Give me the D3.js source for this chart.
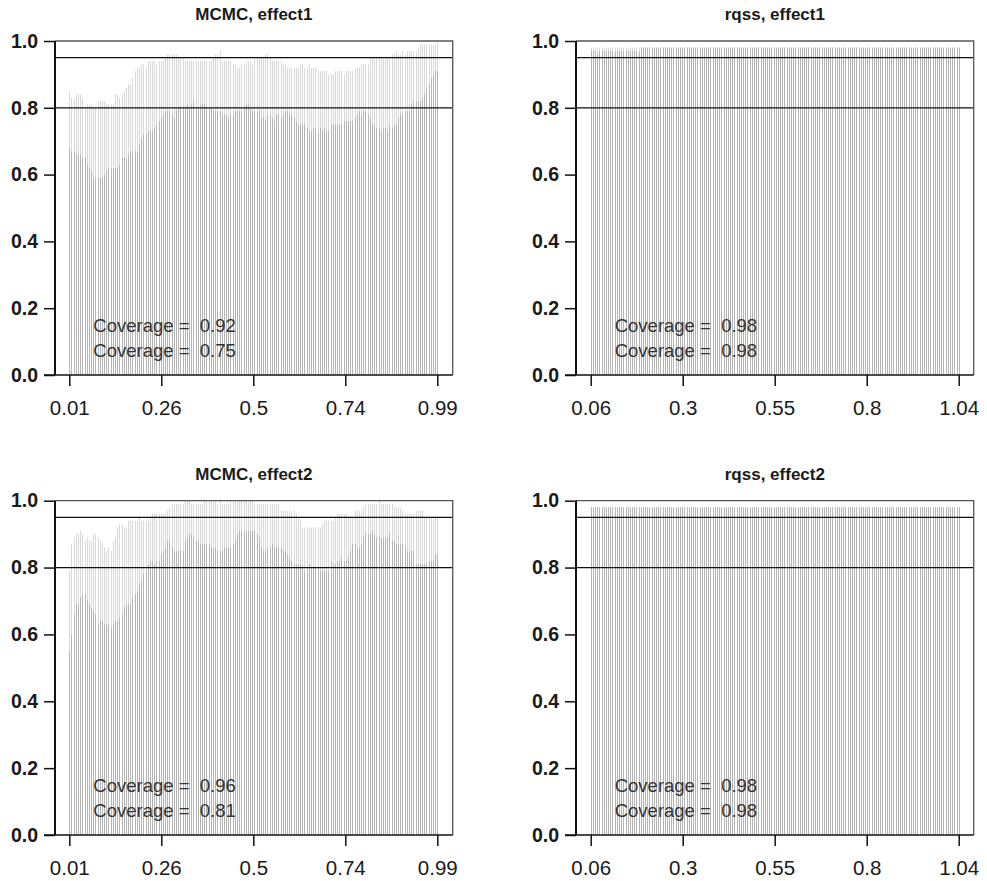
<!DOCTYPE html>
<html><head><meta charset="utf-8">
<script src="https://cdn.jsdelivr.net/npm/d3@7/dist/d3.min.js"></script>
<style>body{margin:0;background:#fff}svg{display:block}</style>
</head><body>
<svg id="chart" width="987" height="881"></svg>
<script>
const panelTitles = ["MCMC, effect1", "rqss, effect1", "MCMC, effect2", "rqss, effect2"];
const xTickLabelsMCMC = ["0.01", "0.26", "0.5", "0.74", "0.99"];
const xTickLabelsRqss = ["0.06", "0.3", "0.55", "0.8", "1.04"];
const yTickValues = [0, 0.2, 0.4, 0.6, 0.8, 1.0];
const yTickLabels = ["0.0", "0.2", "0.4", "0.6", "0.8", "1.0"];
const refLines = [0.95, 0.8];
const coverageUpper = ["0.92", "0.98", "0.96", "0.98"];
const coverageLower = ["0.75", "0.98", "0.81", "0.98"];

const mcmcEffect1Upper = [
0.85,0.83,0.83,0.84,0.84,0.84,0.83,0.80,0.81,0.81,
0.81,0.80,0.80,0.82,0.82,0.82,0.82,0.81,0.81,0.81,
0.81,0.84,0.84,0.83,0.84,0.85,0.86,0.87,0.87,0.89,
0.91,0.92,0.92,0.93,0.93,0.92,0.94,0.94,0.94,0.94,
0.93,0.94,0.94,0.94,0.95,0.96,0.96,0.96,0.96,0.96,
0.95,0.95,0.95,0.94,0.94,0.94,0.94,0.94,0.94,0.94,
0.94,0.94,0.94,0.94,0.94,0.94,0.95,0.96,0.96,0.97,
0.94,0.94,0.94,0.94,0.94,0.93,0.93,0.92,0.92,0.93,
0.93,0.94,0.94,0.94,0.93,0.95,0.95,0.95,0.95,0.95,
0.96,0.96,0.95,0.94,0.94,0.94,0.94,0.94,0.93,0.93,
0.92,0.92,0.92,0.92,0.92,0.92,0.93,0.93,0.92,0.92,
0.93,0.92,0.92,0.92,0.91,0.91,0.91,0.91,0.91,0.90,
0.90,0.90,0.91,0.91,0.91,0.91,0.90,0.91,0.91,0.91,
0.91,0.92,0.92,0.92,0.93,0.93,0.93,0.93,0.95,0.95,
0.95,0.95,0.95,0.95,0.95,0.95,0.95,0.95,0.96,0.96,
0.97,0.96,0.96,0.97,0.96,0.97,0.97,0.97,0.97,0.97,
0.98,0.99,0.99,0.99,0.99,0.99,0.99,0.99,0.99,1.00];

const mcmcEffect1Lower = [
0.68,0.67,0.67,0.66,0.66,0.66,0.65,0.65,0.63,0.62,
0.61,0.59,0.59,0.59,0.59,0.59,0.60,0.61,0.62,0.62,
0.62,0.62,0.62,0.63,0.65,0.65,0.65,0.66,0.67,0.67,
0.67,0.67,0.69,0.71,0.72,0.72,0.73,0.73,0.73,0.74,
0.75,0.76,0.77,0.78,0.79,0.79,0.79,0.78,0.77,0.79,
0.80,0.80,0.80,0.80,0.81,0.80,0.81,0.82,0.80,0.80,
0.81,0.81,0.81,0.80,0.80,0.80,0.79,0.79,0.79,0.79,
0.78,0.78,0.78,0.77,0.78,0.78,0.79,0.79,0.79,0.79,
0.80,0.81,0.81,0.80,0.79,0.79,0.79,0.79,0.77,0.77,
0.76,0.78,0.78,0.77,0.76,0.78,0.78,0.77,0.78,0.79,
0.79,0.78,0.78,0.77,0.76,0.75,0.75,0.75,0.75,0.74,
0.73,0.73,0.74,0.74,0.73,0.74,0.73,0.74,0.73,0.73,
0.75,0.75,0.75,0.75,0.75,0.75,0.76,0.76,0.76,0.76,
0.76,0.77,0.78,0.79,0.78,0.79,0.79,0.78,0.77,0.75,
0.75,0.74,0.74,0.73,0.74,0.74,0.73,0.75,0.74,0.75,
0.75,0.77,0.78,0.78,0.79,0.79,0.79,0.81,0.82,0.82,
0.82,0.82,0.83,0.84,0.86,0.87,0.89,0.90,0.91,0.91];

const mcmcEffect2Upper = [
0.79,0.87,0.89,0.90,0.90,0.91,0.90,0.88,0.89,0.88,
0.88,0.90,0.90,0.89,0.88,0.87,0.86,0.85,0.86,0.85,
0.88,0.89,0.92,0.93,0.93,0.92,0.92,0.94,0.94,0.94,
0.94,0.94,0.95,0.94,0.94,0.94,0.94,0.95,0.96,0.96,
0.96,0.96,0.96,0.96,0.96,0.97,0.98,0.99,0.99,0.99,
0.99,0.99,0.99,1.00,1.00,1.00,0.99,0.99,0.99,0.99,
0.99,0.99,1.00,1.00,1.00,1.00,1.00,1.00,0.99,1.00,
0.99,0.99,0.99,0.99,1.00,1.00,1.00,1.00,1.00,1.00,
1.00,1.00,1.00,1.00,1.00,0.99,0.99,0.99,0.99,0.99,
0.99,0.99,0.99,0.99,0.99,0.99,0.99,0.97,0.97,0.97,
0.97,0.97,0.97,0.97,0.96,0.95,0.94,0.92,0.92,0.92,
0.92,0.92,0.92,0.92,0.92,0.92,0.93,0.94,0.94,0.94,
0.94,0.94,0.95,0.96,0.96,0.96,0.96,0.96,0.95,0.95,
0.95,0.97,0.97,0.97,0.97,0.98,0.99,0.99,0.99,0.99,
0.99,0.99,1.00,0.99,0.99,0.99,0.99,0.99,0.99,0.98,
0.98,0.98,0.98,0.97,0.96,0.96,0.96,0.96,0.96,0.97,
0.97,0.97,0.97,0.95,0.95,0.95,0.95,0.95,0.95,0.95];

const mcmcEffect2Lower = [
0.55,0.60,0.66,0.69,0.69,0.71,0.72,0.72,0.70,0.69,
0.68,0.67,0.66,0.63,0.64,0.64,0.63,0.63,0.63,0.62,
0.63,0.64,0.64,0.65,0.66,0.68,0.69,0.69,0.69,0.71,
0.72,0.73,0.75,0.76,0.78,0.79,0.81,0.82,0.82,0.81,
0.82,0.82,0.84,0.85,0.86,0.88,0.88,0.86,0.85,0.85,
0.85,0.85,0.85,0.88,0.89,0.90,0.90,0.89,0.88,0.88,
0.87,0.87,0.87,0.87,0.87,0.86,0.86,0.86,0.85,0.85,
0.85,0.86,0.86,0.86,0.86,0.87,0.88,0.90,0.91,0.91,
0.91,0.91,0.91,0.91,0.91,0.91,0.90,0.89,0.86,0.85,
0.85,0.86,0.86,0.87,0.86,0.86,0.86,0.86,0.85,0.85,
0.84,0.83,0.82,0.81,0.81,0.81,0.81,0.80,0.79,0.80,
0.81,0.80,0.80,0.80,0.80,0.79,0.79,0.79,0.79,0.79,
0.82,0.81,0.81,0.82,0.82,0.83,0.82,0.82,0.83,0.85,
0.87,0.87,0.86,0.86,0.87,0.89,0.90,0.90,0.90,0.91,
0.90,0.89,0.89,0.89,0.89,0.89,0.89,0.90,0.88,0.88,
0.87,0.87,0.87,0.87,0.86,0.85,0.85,0.85,0.85,0.81,
0.81,0.81,0.81,0.81,0.81,0.82,0.82,0.82,0.84,0.84];

const rqssEffect1Upper = [
0.98,0.98,0.98,0.98,0.98,0.98,0.98,0.98,0.98,0.98,
0.98,0.98,0.98,0.98,0.98,0.98,0.98,0.98,0.98,0.98,
0.98,0.98,0.98,0.98,0.98,0.98,0.98,0.98,0.98,0.98,
0.98,0.98,0.98,0.98,0.98,0.98,0.98,0.98,0.98,0.98,
0.98,0.98,0.98,0.98,0.98,0.98,0.98,0.98,0.98,0.98,
0.98,0.98,0.98,0.98,0.98,0.98,0.98,0.98,0.98,0.98,
0.98,0.98,0.98,0.98,0.98,0.98,0.98,0.98,0.98,0.98,
0.98,0.98,0.98,0.98,0.98,0.98,0.98,0.98,0.98,0.98,
0.98,0.98,0.98,0.98,0.98,0.98,0.98,0.98,0.98,0.98,
0.98,0.98,0.98,0.98,0.98,0.98,0.98,0.98,0.98,0.98,
0.98,0.98,0.98,0.98,0.98,0.98,0.98,0.98,0.98,0.98,
0.98,0.98,0.98,0.98,0.98,0.98,0.98,0.98,0.98,0.98,
0.98,0.98,0.98,0.98,0.98,0.98,0.98,0.98,0.98,0.98,
0.98,0.98,0.98,0.98,0.98,0.98,0.98,0.98,0.98,0.98,
0.98,0.98,0.98,0.98,0.98,0.98,0.98,0.98,0.98,0.98,
0.98,0.98,0.98,0.98,0.98,0.98,0.98,0.98,0.98,0.98,
0.98,0.98,0.98,0.98,0.98,0.98,0.98,0.98,0.98,0.98];

const rqssEffect1Lower = [
0.97,0.97,0.97,0.96,0.97,0.97,0.97,0.97,0.97,0.97,
0.97,0.97,0.97,0.97,0.97,0.97,0.97,0.97,0.97,0.97,
0.97,0.97,0.97,0.98,0.98,0.98,0.98,0.98,0.98,0.98,
0.98,0.98,0.98,0.98,0.98,0.98,0.98,0.98,0.98,0.98,
0.98,0.98,0.98,0.98,0.98,0.98,0.98,0.98,0.98,0.98,
0.98,0.98,0.98,0.98,0.98,0.98,0.98,0.98,0.98,0.98,
0.98,0.98,0.98,0.98,0.98,0.98,0.98,0.98,0.98,0.98,
0.98,0.98,0.98,0.98,0.98,0.98,0.98,0.98,0.98,0.98,
0.98,0.98,0.98,0.98,0.98,0.98,0.98,0.98,0.98,0.98,
0.98,0.98,0.98,0.98,0.98,0.98,0.98,0.98,0.98,0.98,
0.98,0.98,0.98,0.98,0.98,0.98,0.98,0.98,0.98,0.98,
0.98,0.98,0.98,0.98,0.98,0.98,0.98,0.98,0.98,0.98,
0.98,0.98,0.98,0.98,0.98,0.98,0.98,0.98,0.98,0.98,
0.98,0.98,0.98,0.98,0.98,0.98,0.98,0.98,0.98,0.98,
0.98,0.98,0.98,0.98,0.98,0.98,0.98,0.98,0.98,0.98,
0.98,0.98,0.98,0.98,0.98,0.98,0.98,0.98,0.98,0.98,
0.98,0.98,0.98,0.98,0.98,0.98,0.98,0.98,0.98,0.98];

const rqssEffect2Upper = [
0.98,0.98,0.98,0.98,0.98,0.98,0.98,0.98,0.98,0.98,
0.98,0.98,0.98,0.98,0.98,0.98,0.98,0.98,0.98,0.98,
0.98,0.98,0.98,0.98,0.98,0.98,0.98,0.98,0.98,0.98,
0.98,0.98,0.98,0.98,0.98,0.98,0.98,0.98,0.98,0.98,
0.98,0.98,0.98,0.98,0.98,0.98,0.98,0.98,0.98,0.98,
0.98,0.98,0.98,0.98,0.98,0.98,0.98,0.98,0.98,0.98,
0.98,0.98,0.98,0.98,0.98,0.98,0.98,0.98,0.98,0.98,
0.98,0.98,0.98,0.98,0.98,0.98,0.98,0.98,0.98,0.98,
0.98,0.98,0.98,0.98,0.98,0.98,0.98,0.98,0.98,0.98,
0.98,0.98,0.98,0.98,0.98,0.98,0.98,0.98,0.98,0.98,
0.98,0.98,0.98,0.98,0.98,0.98,0.98,0.98,0.98,0.98,
0.98,0.98,0.98,0.98,0.98,0.98,0.98,0.98,0.98,0.98,
0.98,0.98,0.98,0.98,0.98,0.98,0.98,0.98,0.98,0.98,
0.98,0.98,0.98,0.98,0.98,0.98,0.98,0.98,0.98,0.98,
0.98,0.98,0.98,0.98,0.98,0.98,0.98,0.98,0.98,0.98,
0.98,0.98,0.98,0.98,0.98,0.98,0.98,0.98,0.98,0.98,
0.98,0.98,0.98,0.98,0.98,0.98,0.98,0.98,0.98,0.98];

const rqssEffect2Lower = [
0.98,0.98,0.98,0.98,0.98,0.98,0.98,0.98,0.98,0.98,
0.98,0.98,0.98,0.98,0.98,0.98,0.98,0.98,0.98,0.98,
0.98,0.98,0.98,0.98,0.98,0.98,0.98,0.98,0.98,0.98,
0.98,0.98,0.98,0.98,0.98,0.98,0.98,0.98,0.98,0.98,
0.98,0.98,0.98,0.98,0.98,0.98,0.98,0.98,0.98,0.98,
0.98,0.98,0.98,0.98,0.98,0.98,0.98,0.98,0.98,0.98,
0.98,0.98,0.98,0.98,0.98,0.98,0.98,0.98,0.98,0.98,
0.98,0.98,0.98,0.98,0.98,0.98,0.98,0.98,0.98,0.98,
0.98,0.98,0.98,0.98,0.98,0.98,0.98,0.98,0.98,0.98,
0.98,0.98,0.98,0.98,0.98,0.98,0.98,0.98,0.98,0.98,
0.98,0.98,0.98,0.98,0.98,0.98,0.98,0.98,0.98,0.98,
0.98,0.98,0.98,0.98,0.98,0.98,0.98,0.98,0.98,0.98,
0.98,0.98,0.98,0.98,0.98,0.98,0.98,0.98,0.98,0.98,
0.98,0.98,0.98,0.98,0.98,0.98,0.98,0.98,0.98,0.98,
0.98,0.98,0.98,0.98,0.98,0.98,0.98,0.98,0.98,0.98,
0.98,0.98,0.98,0.98,0.98,0.98,0.98,0.98,0.98,0.98,
0.98,0.98,0.98,0.98,0.98,0.98,0.98,0.98,0.98,0.98];

const upperSeries = [mcmcEffect1Upper, rqssEffect1Upper, mcmcEffect2Upper, rqssEffect2Upper];
const lowerSeries = [mcmcEffect1Lower, rqssEffect1Lower, mcmcEffect2Lower, rqssEffect2Lower];
const xTickLabelSets = [xTickLabelsMCMC, xTickLabelsRqss, xTickLabelsMCMC, xTickLabelsRqss];

const svg = d3.select("#chart");
const FONT = "'Liberation Sans', Arial, Helvetica, sans-serif";
const colFrame = [[55, 452.7], [576, 973.7]];
const colData = [[69.3, 437.3], [590.7, 958.7]];
const rowY = [[375, 41], [835, 500.7]];
const lightGray = "#d9d9d9", darkGray = "#b4b4b4";

panelTitles.forEach((title, p) => {
  const c = p % 2, r = Math.floor(p / 2);
  const up = upperSeries[p], lo = lowerSeries[p];
  const n = up.length;
  const x = d3.scaleLinear().domain([0, n - 1]).range(colData[c]);
  const y = d3.scaleLinear().domain([0, 1]).range(rowY[r]);
  const g = svg.append("g");
  const [fl, fr] = colFrame[c];

  // bars
  g.append("g").selectAll("line").data(up).join("line")
    .attr("x1", (d, i) => Math.round(x(i)) + 0.5).attr("x2", (d, i) => Math.round(x(i)) + 0.5)
    .attr("y1", y(0)).attr("y2", d => y(d))
    .attr("stroke", lightGray).attr("stroke-width", 1);
  g.append("g").selectAll("line").data(lo).join("line")
    .attr("x1", (d, i) => Math.round(x(i)) + 0.5).attr("x2", (d, i) => Math.round(x(i)) + 0.5)
    .attr("y1", y(0)).attr("y2", d => y(d))
    .attr("stroke", darkGray).attr("stroke-width", 1);

  // reference lines
  g.selectAll(".ref").data(refLines).join("line")
    .attr("x1", fl).attr("x2", fr).attr("y1", d => y(d)).attr("y2", d => y(d))
    .attr("stroke", "#111").attr("stroke-width", 1.3);

  // frame top/right (gray)
  g.append("path")
    .attr("d", `M${fl},${y(1)}H${fr}V${y(0)}`)
    .attr("fill", "none").attr("stroke", "#555").attr("stroke-width", 1.3);

  // y axis
  const yAxis = d3.axisLeft(y).tickValues(yTickValues).tickSize(11).tickPadding(6)
    .tickFormat((d, i) => yTickLabels[i]);
  const ya = g.append("g").attr("transform", `translate(${fl},0)`).call(yAxis);
  ya.select(".domain").attr("d", `M0,${y(1)}V${y(0)}`).attr("stroke", "#111").attr("stroke-width", 2);
  ya.selectAll(".tick line").attr("stroke", "#111").attr("stroke-width", 1.5);
  ya.selectAll(".tick text").attr("font-family", FONT).attr("font-size", 19.5)
    .attr("font-weight", "bold").attr("fill", "#1a1a1a");

  // x axis
  const labels = xTickLabelSets[p];
  const xt = labels.map((_, k) => (n - 1) * k / (labels.length - 1));
  const xAxis = d3.axisBottom(x).tickValues(xt).tickSize(11).tickPadding(14)
    .tickFormat((d, i) => labels[i]);
  const xa = g.append("g").attr("transform", `translate(0,${y(0)})`).call(xAxis);
  xa.select(".domain").attr("d", `M${fl - 11},0H${fr}`).attr("stroke", "#111").attr("stroke-width", 1.5);
  xa.selectAll(".tick line").attr("stroke", "#111").attr("stroke-width", 1.5);
  xa.selectAll(".tick text").attr("font-family", FONT).attr("font-size", 20.5)
    .attr("fill", "#1a1a1a");

  // title
  g.append("text").attr("x", (fl + fr) / 2).attr("y", y(1) - 21)
    .attr("text-anchor", "middle").attr("font-family", FONT).attr("font-weight", "bold")
    .attr("font-size", 17).attr("fill", "#1a1a1a").text(title);

  // coverage texts
  const tx = colData[c][0] + 24;
  g.append("text").attr("x", tx).attr("y", y(0) - 42.7)
    .attr("font-family", FONT).attr("font-size", 18.5).attr("fill", "#333")
    .style("white-space", "pre")
    .text("Coverage =  " + coverageUpper[p]);
  g.append("text").attr("x", tx).attr("y", y(0) - 18.3)
    .attr("font-family", FONT).attr("font-size", 18.5).attr("fill", "#333")
    .style("white-space", "pre")
    .text("Coverage =  " + coverageLower[p]);
});
</script>
</body></html>
